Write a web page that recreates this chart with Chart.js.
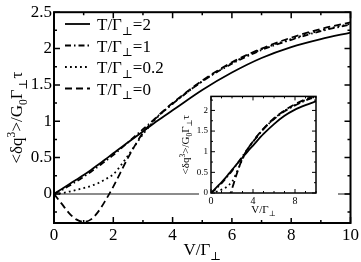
<!DOCTYPE html>
<html>
<head>
<meta charset="utf-8">
<script src="https://cdn.jsdelivr.net/npm/chart.js@4.4.0/dist/chart.umd.min.js"></script>
<style>
  html, body { margin: 0; padding: 0; background: #fff; }
  #wrap { position: relative; width: 361px; height: 262px; }
  #main { position: absolute; left: 0; top: 0; }
  #inset { position: absolute; left: 178px; top: 88px; }
</style>
</head>
<body>
<div id="wrap">
  <canvas id="main" width="361" height="262"></canvas>
  <canvas id="inset" width="160" height="130"></canvas>
</div>
<script>
// valores (V/Γ⊥)
const vValues = [0, 0.25, 0.5, 0.75, 1, 1.25, 1.5, 1.75, 2, 2.5, 3, 3.5, 4, 5, 6, 7, 8, 9, 10];
const qT2   = [0, 0.065, 0.13, 0.195, 0.26, 0.33, 0.405, 0.48, 0.56, 0.71, 0.86, 1.01, 1.15, 1.43, 1.67, 1.87, 2.02, 2.13, 2.22];
const qT1   = [0, 0.05, 0.11, 0.17, 0.235, 0.305, 0.38, 0.455, 0.535, 0.71, 0.89, 1.07, 1.24, 1.55, 1.79, 1.98, 2.12, 2.24, 2.33];
const qT02  = [0, 0.01, 0.03, 0.055, 0.08, 0.11, 0.15, 0.205, 0.27, 0.53, 0.82, 1.06, 1.24, 1.55, 1.80, 1.99, 2.13, 2.25, 2.34];
const qT0   = [0, -0.13, -0.26, -0.35, -0.385, -0.35, -0.24, -0.08, 0.1, 0.5, 0.84, 1.07, 1.25, 1.56, 1.81, 2.0, 2.15, 2.27, 2.36];
const seriesLabels = ['2', '1', '0.2', '0'];
const mainXTicks = [0, 2, 4, 6, 8, 10];
const mainYTicks = [0, 0.5, 1, 1.5, 2, 2.5];
const insetXTicks = [0, 4, 8];
const insetYTicks = [0, 0.5, 1, 1.5, 2];

const FONT = '"Liberation Serif", "DejaVu Serif", serif';
const dashes = [[], [6, 3, 1.5, 3], [1.8, 3.2], [7, 4]];

function makeDatasets() {
    return [qT2, qT1, qT02, qT0].map(function(arr, i) {
        return {
            label: 'T/Γ⊥=' + seriesLabels[i],
            data: vValues.map((v, k) => ({ x: v, y: arr[k] })),
            borderColor: '#000',
            borderWidth: 1.8,
            borderDash: dashes[i],
            pointRadius: 0,
            fill: false,
            cubicInterpolationMode: 'monotone'
        };
    });
}

// texto com sub/sobrescrito: [texto, 0 normal | 1 sup | -1 sub]
function richWidth(ctx, parts, size) {
    let w = 0;
    parts.forEach(p => {
        ctx.font = (p[1] ? size * 0.68 : size) + 'px ' + FONT;
        w += ctx.measureText(p[0]).width;
    });
    return w;
}
function richText(ctx, parts, x, y, size, center) {
    let cx = center ? x - richWidth(ctx, parts, size) / 2 : x;
    ctx.textBaseline = 'alphabetic';
    ctx.textAlign = 'left';
    parts.forEach(p => {
        ctx.font = (p[1] ? size * 0.68 : size) + 'px ' + FONT;
        const dy = p[1] === 1 ? -size * 0.4 : (p[1] === -1 ? size * 0.28 : 0);
        ctx.fillText(p[0], cx, y + dy);
        cx += ctx.measureText(p[0]).width;
    });
}

const yTitle = [['<δq', 0], ['3', 1], ['>/G', 0], ['0', -1], ['Γ', 0], ['⊥', -1], ['τ', 0]];
const xTitle = [['V/Γ', 0], ['⊥', -1]];

// moldura + marcas de escala para dentro
function framePlugin(cfg) {
    return {
        id: 'frame',
        beforeDraw(chart) {
            if (cfg.whiteFrom !== undefined) {
                const ctx = chart.ctx;
                const a = chart.chartArea;
                ctx.save();
                ctx.fillStyle = '#fff';
                ctx.fillRect(cfg.whiteFrom, a.top, chart.width - cfg.whiteFrom, chart.height - a.top);
                ctx.restore();
            }
        },
        afterDraw(chart) {
            const ctx = chart.ctx;
            const a = chart.chartArea;
            const xs = chart.scales.x, ys = chart.scales.y;
            ctx.save();
            ctx.strokeStyle = '#000';
            ctx.lineWidth = cfg.tickWidth;
            ctx.beginPath();
            for (let v = xs.min; v <= xs.max + 1e-9; v += cfg.xMinor) {
                const px = xs.getPixelForValue(v);
                const major = Math.abs(v / cfg.xMajor - Math.round(v / cfg.xMajor)) < 1e-6;
                const len = major ? cfg.major : cfg.minor;
                ctx.moveTo(px, a.bottom); ctx.lineTo(px, a.bottom - len);
                ctx.moveTo(px, a.top); ctx.lineTo(px, a.top + len);
            }
            const y0 = Math.ceil(ys.min / cfg.yMinor) * cfg.yMinor;
            for (let v = y0; v <= ys.max + 1e-9; v += cfg.yMinor) {
                const py = ys.getPixelForValue(v);
                const major = Math.abs(v / cfg.yMajor - Math.round(v / cfg.yMajor)) < 1e-6;
                const len = major ? cfg.major : cfg.minor;
                ctx.moveTo(a.left, py); ctx.lineTo(a.left + len, py);
                ctx.moveTo(a.right, py); ctx.lineTo(a.right - len, py);
            }
            ctx.stroke();
            ctx.lineWidth = cfg.frameWidth;
            ctx.strokeRect(a.left, a.top, a.right - a.left, a.bottom - a.top);

            // títulos dos eixos
            ctx.fillStyle = '#000';
            richText(ctx, xTitle, (a.left + a.right) / 2, cfg.xTitleY, cfg.titleSize, true);
            ctx.save();
            ctx.translate(cfg.yTitleX, (a.top + a.bottom) / 2);
            ctx.rotate(-Math.PI / 2);
            richText(ctx, yTitle, 0, 0, cfg.titleSize, true);
            ctx.restore();

            // legenda
            if (cfg.legend) {
                chart.data.datasets.forEach(function(ds, i) {
                    const ly = 24 + i * 21.5;
                    ctx.save();
                    ctx.lineWidth = ds.borderWidth;
                    ctx.setLineDash(ds.borderDash);
                    ctx.beginPath();
                    ctx.moveTo(65, ly); ctx.lineTo(90, ly);
                    ctx.stroke();
                    ctx.restore();
                    richText(ctx, [['T/Γ', 0], ['⊥', -1], ['=' + seriesLabels[i], 0]], 97, ly + 6, 17, false);
                });
            }
            ctx.restore();
        }
    };
}

function axisOpts(min, max, tickList, fontSize, pad, fixed, isX, zeroLine) {
    return {
        type: 'linear',
        min: min,
        max: max,
        afterBuildTicks: function(s) { s.ticks = tickList.map(v => ({ value: v })); },
        afterFit: function(s) { if (isX) s.height = fixed; else s.width = fixed; },
        border: { display: false },
        grid: {
            display: !!zeroLine,
            drawTicks: false,
            lineWidth: 2,
            color: ctx => (ctx.tick && ctx.tick.value === 0) ? '#8c8c8c' : 'rgba(0,0,0,0)'
        },
        ticks: {
            color: '#000',
            padding: pad,
            maxRotation: 0,
            autoSkip: false,
            font: { family: FONT, size: fontSize },
            callback: v => String(v)
        }
    };
}

new Chart(document.getElementById('main').getContext('2d'), {
    type: 'line',
    data: { datasets: makeDatasets() },
    options: {
        responsive: false,
        animation: false,
        layout: { padding: { top: 6, right: 9, left: 0, bottom: 0 } },
        plugins: { legend: { display: false }, tooltip: { enabled: false } },
        scales: {
            x: axisOpts(0, 10, mainXTicks, 17, 2, 39, true, false),
            y: axisOpts(-0.4, 2.5, mainYTicks, 17, 2, 54, false, true)
        }
    },
    plugins: [framePlugin({
        xMinor: 1, xMajor: 2, yMinor: 0.25, yMajor: 0.5,
        major: 6, minor: 3, tickWidth: 1.5, frameWidth: 2,
        xTitleY: 255, yTitleX: 22, titleSize: 17, legend: true
    })]
});

new Chart(document.getElementById('inset').getContext('2d'), {
    type: 'line',
    data: { datasets: makeDatasets() },
    options: {
        responsive: false,
        animation: false,
        layout: { padding: { top: 6, right: 22, left: 0, bottom: 0 } },
        plugins: { legend: { display: false }, tooltip: { enabled: false } },
        scales: {
            x: axisOpts(0, 10, insetXTicks, 10, 2, 25, true, false),
            y: axisOpts(0, 2.34, insetYTicks, 9, 3, 33, false, false)
        }
    },
    plugins: [framePlugin({
        whiteFrom: 21,
        xMinor: 1, xMajor: 4, yMinor: 0.25, yMajor: 0.5,
        major: 4, minor: 2, tickWidth: 1, frameWidth: 1.5,
        xTitleY: 125, yTitleX: 11, titleSize: 11, legend: false
    })]
});
</script>
</body>
</html>
